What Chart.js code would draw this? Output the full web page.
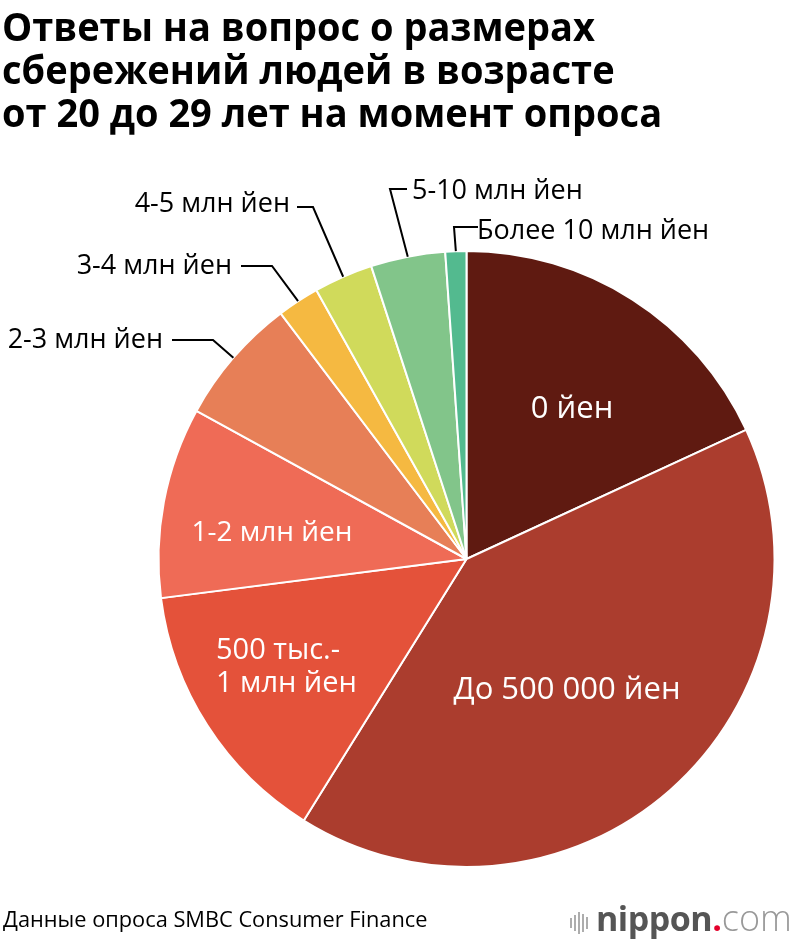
<!DOCTYPE html>
<html lang="ru">
<head>
<meta charset="utf-8">
<script src="https://cdn.jsdelivr.net/npm/chart.js@4.4.0/dist/chart.umd.min.js"></script>
<style>
  html, body { margin: 0; padding: 0; background: #fff; }
  #wrap { position: relative; width: 800px; height: 942px; overflow: hidden; }
  #chart { position: absolute; left: 0; top: 0; }
  h1 {
    position: absolute; left: 2px; top: 4px; margin: 0;
    font: bold 40px/43px 'Open Sans', sans-serif; color: #000;
    transform: scaleX(0.95); transform-origin: left top; white-space: nowrap;
  }
  .src {
    position: absolute; left: 3px; top: 903px;
    font: 22px 'Open Sans', sans-serif; color: #000;
    transform: scaleX(0.99); transform-origin: left top; white-space: nowrap;
  }
  .logo { position: absolute; left: 568px; top: 893px; white-space: nowrap; font-family: 'Open Sans', sans-serif; }
  .logo .bars { display: inline-block; width: 28px; height: 26px; vertical-align: -4px; }
  .logo .n { font-weight: bold; font-size: 34px; color: #555; letter-spacing: -0.5px; }
  .logo .dot { font-weight: bold; font-size: 34px; color: #e4002b; }
  .logo .com { font-weight: 300; font-size: 36px; color: #999; }
</style>
</head>
<body>
<div id="wrap">
  <canvas id="chart" width="800" height="942"></canvas>
  <h1>Ответы на вопрос о размерах<br>сбережений людей в возрасте<br>от 20 до 29 лет на момент опроса</h1>
  <div class="src">Данные опроса SMBC Consumer Finance</div>
  <div class="logo"><svg class="bars" viewBox="0 0 28 26"><g stroke="#999" stroke-width="1.6"><line x1="3" y1="9" x2="3" y2="19"/><line x1="7" y1="6" x2="7" y2="22"/><line x1="11" y1="3" x2="11" y2="25"/><line x1="15" y1="5" x2="15" y2="23"/><line x1="19" y1="8" x2="19" y2="20"/></g></svg><span class="n">nippon</span><span class="dot">.</span><span class="com">com</span></div>
</div>
<script>
// categories and shares (%)
var categories = ['0 йен', 'До 500 000 йен', '500 тыс.-1 млн йен', '1-2 млн йен', '2-3 млн йен',
                  '3-4 млн йен', '4-5 млн йен', '5-10 млн йен', 'Более 10 млн йен'];
var shares = [18.1, 40.7, 14.1, 10.0, 6.7, 2.2, 3.1, 3.9, 1.1];
var colors = ['#5f1a11', '#ab3d2e', '#e4523a', '#ef6b56', '#e77f57', '#f5b941', '#d0da5b', '#82c58a', '#53ba8f'];

// label placement (annotations only)
var inside = {
  0: { lines: ['0 йен'], x: 572, y: 409, size: 31, align: 'center' },
  1: { lines: ['До 500 000 йен'], x: 567, y: 690, size: 31, align: 'center' },
  2: { lines: ['500 тыс.-', '1 млн йен'], x: 216, y: 651, size: 29, align: 'left' },
  3: { lines: ['1-2 млн йен'], x: 272, y: 533, size: 28, align: 'center' }
};
var outside = {
  4: { text: '2-3 млн йен', tx: 163, ty: 340, elbow: [213, 340], end: 172 },
  5: { text: '3-4 млн йен', tx: 232, ty: 266, elbow: [272, 266], end: 241 },
  6: { text: '4-5 млн йен', tx: 290, ty: 204, elbow: [313, 207], end: 297 },
  7: { text: '5-10 млн йен', tx: 412, ty: 191, elbow: [390, 189], end: 407, left: true },
  8: { text: 'Более 10 млн йен', tx: 477, ty: 231, elbow: [454, 227], end: 478, left: true }
};

var labelPlugin = {
  id: 'sliceLabels',
  afterDatasetsDraw: function (chart) {
    var ctx = chart.ctx;
    var arcs = chart.getDatasetMeta(0).data;
    ctx.save();
    ctx.textBaseline = 'middle';
    Object.keys(inside).forEach(function (k) {
      var l = inside[k];
      ctx.fillStyle = '#fff';
      ctx.font = l.size + 'px "Open Sans", sans-serif';
      ctx.textAlign = l.align;
      l.lines.forEach(function (s, i) { ctx.fillText(s, l.x, l.y + i * 33); });
    });
    Object.keys(outside).forEach(function (k) {
      var l = outside[k];
      var a = arcs[k];
      var mid = (a.startAngle + a.endAngle) / 2;
      var px = a.x + Math.cos(mid) * a.outerRadius;
      var py = a.y + Math.sin(mid) * a.outerRadius;
      ctx.strokeStyle = '#000';
      ctx.lineWidth = 2;
      ctx.beginPath();
      ctx.moveTo(px, py);
      ctx.lineTo(l.elbow[0], l.elbow[1]);
      ctx.lineTo(l.end, l.elbow[1]);
      ctx.stroke();
      ctx.fillStyle = '#000';
      ctx.font = '27px "Open Sans", sans-serif';
      ctx.textAlign = l.left ? 'left' : 'right';
      ctx.fillText(l.text, l.tx, l.ty);
    });
    ctx.restore();
  }
};

new Chart(document.getElementById('chart'), {
  type: 'pie',
  data: {
    labels: categories,
    datasets: [{ data: shares, backgroundColor: colors, borderColor: '#fff', borderWidth: 2, hoverOffset: 0 }]
  },
  options: {
    responsive: false,
    animation: false,
    layout: { padding: { left: 157.5, right: 24.5, top: 250, bottom: 74 } },
    plugins: { legend: { display: false }, tooltip: { enabled: false }, title: { display: false } }
  },
  plugins: [labelPlugin]
});
</script>
</body>
</html>
